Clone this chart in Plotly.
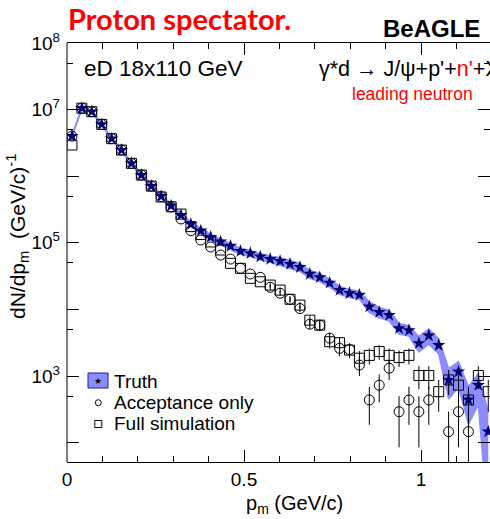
import plotly.graph_objects as go

# ---------------- data ----------------
# bin centres of p_m (GeV/c)
pm = [0.014, 0.042, 0.070, 0.098, 0.126, 0.154, 0.182, 0.210, 0.238, 0.266,
      0.294, 0.322, 0.350, 0.378, 0.406, 0.434, 0.462, 0.490, 0.518, 0.546,
      0.574, 0.602, 0.630, 0.658, 0.686, 0.714, 0.742, 0.770, 0.798, 0.826,
      0.854, 0.882, 0.910, 0.938, 0.966, 0.994, 1.022, 1.050, 1.078, 1.106,
      1.134, 1.162, 1.190]

truth = [4.0e6, 1.05e7, 9.3e6, 6.0e6, 3.66e6, 2.47e6, 1.56e6, 1.04e6, 7.1e5, 5.0e5,
         3.6e5, 2.6e5, 1.9e5, 1.52e5, 1.22e5, 1.04e5, 8.95e4, 7.5e4, 6.95e4, 6.2e4,
         5.7e4, 5.3e4, 4.8e4, 4.3e4, 3.4e4, 3.03e4, 2.5e4, 1.95e4, 1.75e4, 1.65e4,
         1.1e4, 9.1e3, 8.2e3, 5.2e3, 4.85e3, 3.1e3, 4.05e3, 2.9e3, 870, 1160,
         440, 730, 146]
truth_err = [1.0e5, 2.6e5, 2.3e5, 1.5e5, 9.0e4, 6.0e4, 8.0e4, 5.5e4, 4.0e4, 3.0e4,
             2.2e4, 1.7e4, 1.3e4, 1.5e4, 1.2e4, 1.05e4, 9.0e3, 7.6e3, 7.0e3, 6.3e3,
             5.8e3, 7.0e3, 6.5e3, 5.9e3, 4.6e3, 4.1e3, 3.4e3, 2.7e3, 2.4e3, 2.2e3,
             2.0e3, 1.6e3, 1.45e3, 930, 870, 800, 1.05e3, 740, 420, 480,
             250, 360, 140]

accept = [4.0e6, 1.05e7, 9.3e6, 6.0e6, 3.66e6, 2.47e6, 1.56e6, 1.04e6, 7.1e5, 4.95e5,
          3.45e5, 2.28e5, 1.52e5, 1.1e5, 8.65e4, 6.55e4, 5.7e4, 4.14e4, 3.4e4, 3.03e4,
          2.15e4, 1.75e4, 1.42e4, 1.03e4, 6000, 5800, 3700, 2600, 2500, 1460,
          437, 728, 1310, 291, 437, 291, 437, None, 146, 291,
          146, None, None]
accept_err_up = [0, 0, 0, 0, 0, 0, 0, 0, 0, 0,
                 0, 0, 0, 0, 0, 0, 0, 0, 0, 0,
                 1769, 1596, 1438, 1225, 935, 919, 734, 615, 603, 461,
                 252, 326, 437, 206, 252, 206, 252, 0, 146, 206,
                 146, 0, 0]
accept_err_dn = [0, 0, 0, 0, 0, 0, 0, 0, 0, 0,
                 0, 0, 0, 0, 0, 0, 0, 0, 0, 0,
                 1769, 1596, 1438, 1225, 935, 919, 734, 615, 603, 461,
                 252, 326, 437, 206, 252, 206, 252, 0, 145, 206,
                 145, 0, 0]

full = [2.94e6, 1.05e7, 9.3e6, 6.0e6, 3.66e6, 2.47e6, 1.56e6, 1.04e6, 7.1e5, 4.87e5,
        3.48e5, 2.7e5, 1.75e5, 1.33e5, 1.03e5, 7.8e4, 4.92e4, 4.14e4, 2.93e4, 2.6e4,
        2.32e4, 1.95e4, 1.42e4, 1.16e4, 6900, 5800, 3270, 3160, 2450, 1850,
        2040, 2330, 2040, 1890, 2040, 1019, 1019, 582, 874, 728,
        437, 1019, 582]
full_err = [0, 0, 0, 0, 0, 0, 0, 0, 0, 0,
            0, 0, 0, 0, 0, 0, 0, 0, 0, 0,
            1838, 1685, 1438, 1300, 1002, 919, 690, 678, 597, 519,
            545, 582, 545, 525, 545, 385, 385, 291, 357, 326,
            252, 385, 291]

x_tickvals = [0, 0.5, 1]
x_ticktext = ["0", "0.5", "1"]
x_minor = [0.1, 0.2, 0.3, 0.4, 0.6, 0.7, 0.8, 0.9, 1.1]
y_tickvals = [1e2, 1e3, 1e4, 1e5, 1e6, 1e7, 1e8]
y_ticktext = ["", "10<sup>3</sup>", "", "10<sup>5</sup>", "", "10<sup>7</sup>", "10<sup>8</sup>"]
y_minor = [50, 500, 5e3, 5e4, 5e5, 5e6, 5e7]

# ---------------- style ----------------
FONT = "Liberation Sans, Arial, Helvetica, sans-serif"
BAND = "#8c8cff"
NAVY = "#00006a"
W, H = 490, 519
ML, MR, MT, MB = 67, 0, 43, 57
PW, PH = W - ML - MR, H - MT - MB


def px(x):
    return (x - ML) / PW


def py(y):
    return (H - MB - y) / PH


band_hi = [v + e for v, e in zip(truth, truth_err)]
band_lo = [max(v - e, 1.0) for v, e in zip(truth, truth_err)]

fig = go.Figure()
fig.add_trace(go.Scatter(x=pm, y=band_hi, mode="lines", line=dict(color=BAND, width=1.5),
                         showlegend=False, hoverinfo="skip"))
fig.add_trace(go.Scatter(x=pm, y=band_lo, mode="lines", line=dict(color=BAND, width=1.5),
                         fill="tonexty", fillcolor=BAND, showlegend=False, hoverinfo="skip"))
fig.add_trace(go.Scatter(x=pm, y=full, mode="markers",
                         marker=dict(symbol="square-open", size=10, color="black",
                                     line=dict(width=1, color="black")),
                         error_y=dict(type="data", array=full_err, color="black",
                                      thickness=1, width=0),
                         showlegend=False))
fig.add_trace(go.Scatter(x=pm, y=accept, mode="markers",
                         marker=dict(symbol="circle-open", size=10, color="black",
                                     line=dict(width=1, color="black")),
                         error_y=dict(type="data", array=accept_err_up,
                                      arrayminus=accept_err_dn, color="black",
                                      thickness=1, width=0),
                         showlegend=False))
fig.add_trace(go.Scatter(x=pm, y=truth, mode="markers",
                         marker=dict(symbol="star", size=10, color=NAVY,
                                     line=dict(width=0)),
                         showlegend=False))

ann = []


def text(x, y, s, size, color="black", xanchor="left", bold=False, family=FONT, angle=0):
    ann.append(dict(x=px(x), y=py(y), xref="paper", yref="paper", text=(f"<b>{s}</b>" if bold else s),
                    showarrow=False, xanchor=xanchor, yanchor="middle", textangle=angle,
                    font=dict(size=size, color=color, family=family)))


text(66, 19, "Proton spectator.", 29, color="#ff0000", bold=True,
     family="Lato, Open Sans, sans-serif")
text(482, 28, "BeAGLE", 24, xanchor="right", bold=True)
text(82, 68, "eD 18x110 GeV", 22.5)
text(317, 69, "γ*d → J/ψ+p'+<span style='color:#ff0000'>n'</span>+X", 21.5)
text(350, 94, "leading neutron", 17.5, color="#ff0000")
text(294, 504, "p<sub>m</sub> (GeV/c)", 20, xanchor="center")
text(18, 237, "dN/dp<sub>m</sub>  (GeV/c)<sup>-1</sup>", 21, xanchor="center", angle=-90)
# legend
text(112, 381, "Truth", 19)
text(112, 402, "Acceptance only", 19)
text(112, 423, "Full simulation", 19)
text(98, 381, "★", 9, color="black", xanchor="center")

shapes = [
    dict(type="line", xref="paper", yref="paper", x0=0, x1=0, y0=0, y1=1,
         line=dict(color="black", width=1)),
    dict(type="rect", xref="paper", yref="paper", x0=px(88), x1=px(108), y0=py(388), y1=py(373),
         fillcolor=BAND, line=dict(color="#1a1aa0", width=1), layer="below"),
    dict(type="circle", xref="paper", yref="paper", x0=px(95.3), x1=px(101.3),
         y0=py(405.7), y1=py(399.7), line=dict(color="black", width=1)),
    dict(type="rect", xref="paper", yref="paper", x0=px(94.8), x1=px(101.8),
         y0=py(427.5), y1=py(420.5), line=dict(color="black", width=1)),
]

fig.update_layout(
    width=W, height=H, margin=dict(l=ML, r=MR, t=MT, b=MB, pad=0),
    paper_bgcolor="white", plot_bgcolor="white",
    font=dict(family=FONT, color="black"),
    annotations=ann, shapes=shapes, showlegend=False,
    xaxis=dict(range=[0, PW / 354.0], tickmode="array", tickvals=x_tickvals, ticktext=x_ticktext,
               ticks="inside", ticklen=12, tickwidth=1, tickcolor="black",
               showline=True, linecolor="black", linewidth=1, mirror="ticks",
               showgrid=False, zeroline=False, tickfont=dict(size=19, family=FONT),
               ticklabelstandoff=0,
               minor=dict(tickmode="array", tickvals=x_minor, ticks="inside", ticklen=6,
                          tickcolor="black", tickwidth=1, showgrid=False)),
    yaxis=dict(type="log", range=[1.709, 8.0], tickmode="array", tickvals=y_tickvals,
               ticktext=y_ticktext, ticks="inside", ticklen=12, tickwidth=1, tickcolor="black",
               showline=False, mirror="ticks", showgrid=False, zeroline=False,
               tickfont=dict(size=19, family=FONT), ticklabelstandoff=6,
               minor=dict(tickmode="array", tickvals=y_minor, ticks="inside", ticklen=6,
                          tickcolor="black", tickwidth=1, showgrid=False)),
)

fig.write_html("out.html")
